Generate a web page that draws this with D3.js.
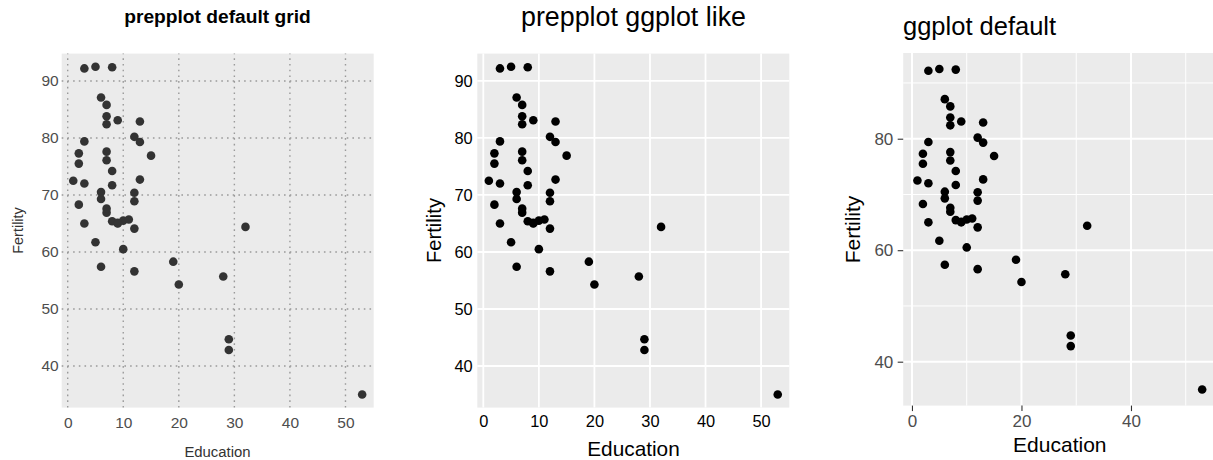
<!DOCTYPE html>
<html>
<head>
<meta charset="utf-8">
<script src="https://cdn.jsdelivr.net/npm/d3@7"></script>
<style>
  body { margin: 0; background: #fff; }
  svg { display: block; font-family: "Liberation Sans", Arial, Helvetica, sans-serif; }
</style>
</head>
<body>
<svg id="chart" width="1213" height="460"></svg>
<script>
// swiss data set: Education vs Fertility, 47 provinces
const education = [12, 9, 5, 7, 15, 7, 7, 8, 7, 13, 6, 12, 7, 12, 5, 2, 8, 28, 20, 9,
  10, 3, 12, 6, 1, 8, 3, 10, 19, 8, 2, 6, 2, 6, 3, 9, 3, 13, 12, 11, 13, 32, 7, 7, 53, 29, 29];
const fertility = [80.2, 83.1, 92.5, 85.8, 76.9, 76.1, 83.8, 92.4, 82.4, 82.9, 87.1, 64.1,
  66.9, 68.9, 61.7, 68.3, 71.7, 55.7, 54.3, 65.1, 65.5, 65.0, 56.6, 57.4, 72.5, 74.2, 72.0,
  60.5, 58.3, 65.4, 75.5, 69.3, 77.3, 70.5, 79.4, 65.0, 92.2, 79.3, 70.4, 65.7, 72.7, 64.4,
  77.6, 67.6, 35.0, 44.7, 42.8];

const prepTicksX = [0, 10, 20, 30, 40, 50];
const prepTicksY = [40, 50, 60, 70, 80, 90];
const ggMajorX = [0, 20, 40];
const ggMinorX = [10, 30, 50];
const ggMajorY = [40, 60, 80];
const ggMinorY = [50, 70, 90];

const points = education.map((e, i) => ({ x: e, y: fertility[i] }));
const svg = d3.select("#chart");

// widen a data range by a fraction on both sides
function widen(ext, f) {
  const d = (ext[1] - ext[0]) * f;
  return [ext[0] - d, ext[1] + d];
}

function panel(x, y, bg) {
  const g = svg.append("g");
  g.append("rect")
    .attr("x", x.range()[0])
    .attr("y", y.range()[1])
    .attr("width", x.range()[1] - x.range()[0])
    .attr("height", y.range()[0] - y.range()[1])
    .style("fill", bg);
  return g;
}

function gridLines(g, x, y, xs, ys, style) {
  const [x0, x1] = x.range();
  const [y0, y1] = y.range();
  g.selectAll(null).data(xs).enter().append("line")
    .attr("x1", (d) => x(d)).attr("x2", (d) => x(d))
    .attr("y1", y0).attr("y2", y1)
    .call(style);
  g.selectAll(null).data(ys).enter().append("line")
    .attr("x1", x0).attr("x2", x1)
    .attr("y1", (d) => y(d)).attr("y2", (d) => y(d))
    .call(style);
}

function dots(g, x, y, r, color) {
  g.selectAll(null).data(points).enter().append("circle")
    .attr("cx", (d) => x(d.x))
    .attr("cy", (d) => y(d.y))
    .attr("r", r)
    .style("fill", color);
}

function axes(g, x, y, o) {
  const ax = g.append("g")
    .attr("transform", `translate(0, ${y.range()[0]})`)
    .call(d3.axisBottom(x).tickValues(o.xticks).tickSize(o.tick).tickPadding(o.padX).tickFormat(d3.format("d")));
  const ay = g.append("g")
    .attr("transform", `translate(${x.range()[0]}, 0)`)
    .call(d3.axisLeft(y).tickValues(o.yticks).tickSize(o.tick).tickPadding(o.padY).tickFormat(d3.format("d")));
  [ax, ay].forEach((a) => {
    a.select(".domain").remove();
    a.selectAll("text")
      .style("font-family", "Liberation Sans, Arial, sans-serif")
      .style("font-size", o.size + "px")
      .style("fill", o.color);
    a.selectAll(".tick line").style("stroke", "#333333").style("stroke-width", 1.1);
  });
}

function label(text, px, py, size, opts = {}) {
  const t = svg.append("text")
    .attr("x", px)
    .attr("y", py)
    .attr("text-anchor", opts.anchor || "middle")
    .style("font-size", size + "px")
    .style("font-weight", opts.bold ? "bold" : "normal")
    .style("fill", opts.color || "#000")
    .text(text);
  if (opts.rotate) t.attr("transform", `rotate(-90, ${px}, ${py})`);
}

// --- panel 1: prepplot default grid ---
const x1 = d3.scaleLinear().domain(widen(d3.extent(education), 0.04)).range([61.7, 373.7]);
const y1 = d3.scaleLinear().domain(widen(d3.extent(fertility), 0.04)).range([407.6, 53.6]);
const p1 = panel(x1, y1, "#ebebeb");
gridLines(p1, x1, y1, prepTicksX, prepTicksY, (s) => s
  .style("stroke", "#9a9a9a").style("stroke-width", 1.4).style("stroke-dasharray", "1.6,4.1"));
dots(p1, x1, y1, 4.3, "#333333");
axes(svg, x1, y1, { xticks: prepTicksX, yticks: prepTicksY, tick: 0, padX: 9.5, padY: 3, size: 15.5, color: "#4d4d4d" });
label("prepplot default grid", 217.5, 23, 19.2, { bold: true });
label("Education", 217.5, 456.5, 14.9, { color: "#333" });
label("Fertility", 22.7, 230.5, 14.5, { rotate: true, color: "#333" });

// --- panel 2: prepplot ggplot like ---
const x2 = d3.scaleLinear().domain(widen(d3.extent(education), 0.04)).range([477.3, 789.3]);
const y2 = d3.scaleLinear().domain(widen(d3.extent(fertility), 0.04)).range([407.6, 53.6]);
const p2 = panel(x2, y2, "#ebebeb");
gridLines(p2, x2, y2, prepTicksX, prepTicksY, (s) => s
  .style("stroke", "#fff").style("stroke-width", 1.8));
dots(p2, x2, y2, 4.3, "#000");
axes(svg, x2, y2, { xticks: prepTicksX, yticks: prepTicksY, tick: 0, padX: 7.5, padY: 4.6, size: 16.4, color: "#000" });
label("prepplot ggplot like", 633.5, 26, 26.8);
label("Education", 633.5, 455.5, 20.8);
label("Fertility", 441, 230.5, 20.2, { rotate: true });

// --- panel 3: ggplot default ---
const x3 = d3.scaleLinear().domain(widen(d3.extent(education), 0.05)).range([903.2, 1216.4]);
const y3 = d3.scaleLinear().domain(widen(d3.extent(fertility), 0.05)).range([405.6, 53]);
const p3 = panel(x3, y3, "#ebebeb");
gridLines(p3, x3, y3, ggMinorX, ggMinorY, (s) => s
  .style("stroke", "#fff").style("stroke-width", 1));
gridLines(p3, x3, y3, ggMajorX, ggMajorY, (s) => s
  .style("stroke", "#fff").style("stroke-width", 2));
dots(p3, x3, y3, 4.3, "#000");
axes(svg, x3, y3, { xticks: ggMajorX, yticks: ggMajorY, tick: 5.5, padX: 4, padY: 4.4, size: 17, color: "#4d4d4d" });
label("ggplot default", 903, 35, 25.5, { anchor: "start" });
label("Education", 1059.8, 452, 21);
label("Fertility", 860, 229.5, 21, { rotate: true });
</script>
</body>
</html>
